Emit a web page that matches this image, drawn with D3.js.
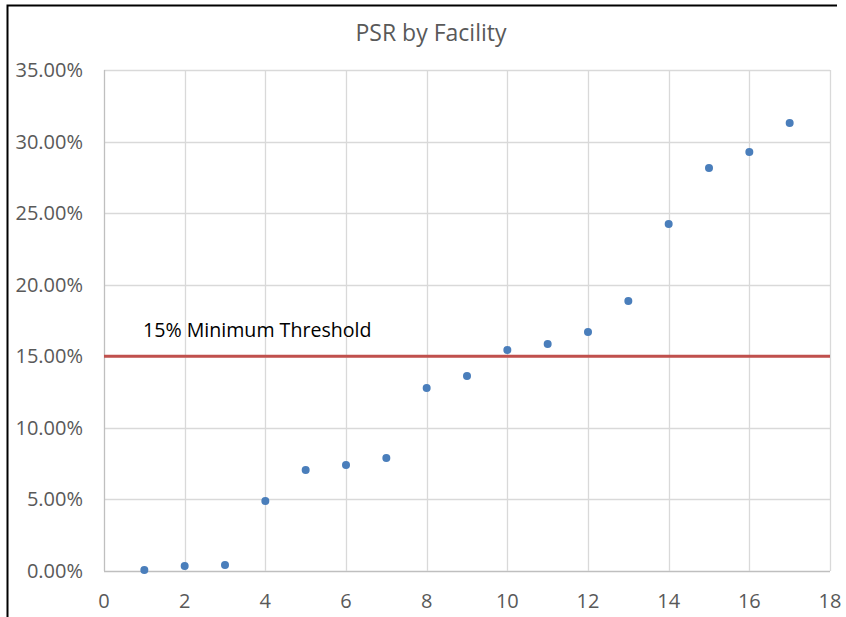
<!DOCTYPE html>
<html lang="en">
	<head>
		<meta charset="utf-8">
		<title>PSR by Facility</title>
		<script src="https://d3js.org/d3.v7.min.js"></script>
		<style type="text/css">
			body { margin: 0; background: #fff; }
			text { font-family: "Open Sans", sans-serif; }
		</style>
	</head>
	<body>
		<script type="text/javascript">
			// data
			var facilities = [1, 2, 3, 4, 5, 6, 7, 8, 9, 10, 11, 12, 13, 14, 15, 16, 17];
			var psr = [0.0007, 0.0035, 0.0042, 0.0489, 0.0706, 0.0741, 0.0790, 0.1279, 0.1362, 0.1544, 0.1586, 0.1670, 0.1886, 0.2424, 0.2815, 0.2927, 0.3130];
			var thresholdX = [0, 18];
			var thresholdY = [0.15, 0.15];
			var xTicks = [0, 2, 4, 6, 8, 10, 12, 14, 16, 18];
			var yTicks = [0, 0.05, 0.10, 0.15, 0.20, 0.25, 0.30, 0.35];

			var w = 846;
			var h = 617;

			var x = d3.scaleLinear().domain([0, 18]).range([104, 830]);
			var y = d3.scaleLinear().domain([0, 0.35]).range([571, 70]);

			var svg = d3.select("body")
						.append("svg")
						.attr("width", w)
						.attr("height", h);

			// frame (left and top edge)
			svg.append("path")
				.attr("d", "M7.5,617V5.5H837")
				.attr("fill", "none")
				.attr("stroke", "#000")
				.attr("stroke-width", 2);

			// gridlines
			svg.append("g").selectAll("line")
				.data(yTicks)
				.enter()
				.append("line")
				.attr("x1", x(0)).attr("x2", x(18))
				.attr("y1", function(d){ return Math.round(y(d)) + 0.5; })
				.attr("y2", function(d){ return Math.round(y(d)) + 0.5; })
				.attr("stroke", function(d){ return d === 0 ? "#bfbfbf" : "#d9d9d9"; })
				.attr("stroke-width", 1.3);

			svg.append("g").selectAll("line")
				.data(xTicks)
				.enter()
				.append("line")
				.attr("y1", y(0)).attr("y2", y(0.35))
				.attr("x1", function(d){ return Math.round(x(d)) + 0.5; })
				.attr("x2", function(d){ return Math.round(x(d)) + 0.5; })
				.attr("stroke", function(d){ return d === 0 ? "#bfbfbf" : "#d9d9d9"; })
				.attr("stroke-width", 1.3);

			// tick labels
			svg.append("g").selectAll("text")
				.data(yTicks)
				.enter()
				.append("text")
				.attr("x", 83)
				.attr("y", function(d){ return y(d) + 7; })
				.attr("text-anchor", "end")
				.attr("font-size", 20)
				.attr("fill", "#595959")
				.text(function(d){ return (d * 100).toFixed(2) + "%"; });

			svg.append("g").selectAll("text")
				.data(xTicks)
				.enter()
				.append("text")
				.attr("x", function(d){ return x(d); })
				.attr("y", 608)
				.attr("text-anchor", "middle")
				.attr("font-size", 20)
				.attr("fill", "#595959")
				.text(function(d){ return d; });

			// title
			svg.append("text")
				.attr("x", 431)
				.attr("y", 41)
				.attr("text-anchor", "middle")
				.attr("font-size", 23)
				.attr("fill", "#595959")
				.text("PSR by Facility");

			// threshold line
			var line = d3.line()
				.x(function(d){ return x(d[0]); })
				.y(function(d){ return y(d[1]); });
			svg.append("path")
				.datum(d3.zip(thresholdX, thresholdY))
				.attr("d", line)
				.attr("fill", "none")
				.attr("stroke", "#c0504d")
				.attr("stroke-width", 3);

			svg.append("text")
				.attr("x", 143)
				.attr("y", 337)
				.attr("font-size", 19.6)
				.attr("fill", "#000")
				.text("15% Minimum Threshold");

			// points
			svg.append("g").selectAll("circle")
				.data(facilities)
				.enter()
				.append("circle")
				.attr("cx", function(d){ return x(d); })
				.attr("cy", function(d, i){ return y(psr[i]); })
				.attr("r", 4)
				.attr("fill", "#4a7ebb");
		</script>
	</body>
</html>
